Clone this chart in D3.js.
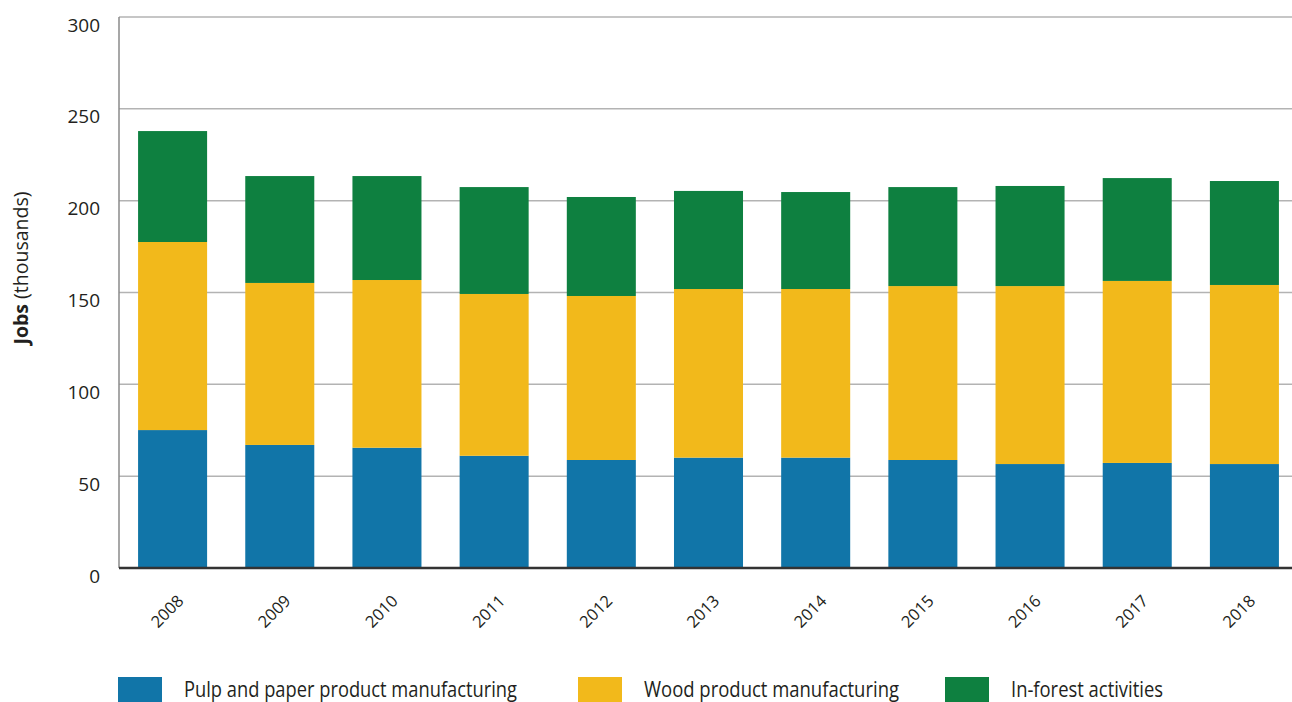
<!DOCTYPE html>
<html>
<head>
<meta charset="utf-8">
<script src="https://cdn.jsdelivr.net/npm/d3@7"></script>
<style>
  html, body { margin: 0; padding: 0; background: #fff; }
  svg { display: block; font-family: "Open Sans", "Noto Sans", sans-serif; }
</style>
</head>
<body>
<svg id="chart" width="1292" height="702"></svg>
<script>
const years = ["2008","2009","2010","2011","2012","2013","2014","2015","2016","2017","2018"];
const pulpPaper = [75.1, 67.0, 65.5, 61.1, 58.8, 60.1, 60.1, 58.8, 56.6, 57.2, 56.6];
const woodProduct = [102.4, 88.2, 91.3, 88.1, 89.3, 91.8, 91.8, 94.7, 96.9, 99.1, 97.5];
const inForest = [60.4, 58.2, 56.6, 58.2, 53.9, 53.4, 52.8, 53.9, 54.5, 56.0, 56.6];
const seriesNames = ["Pulp and paper product manufacturing", "Wood product manufacturing", "In-forest activities"];
const yTicks = [0, 50, 100, 150, 200, 250, 300];
const yTitleBold = "Jobs";
const yTitleRest = " (thousands)";

const colors = ["#1175a8", "#f2b91b", "#0e8040"];
const textColor = "#231f20";

const rows = years.map((y, i) => ({ year: y, s0: pulpPaper[i], s1: woodProduct[i], s2: inForest[i] }));
const stack = d3.stack().keys(["s0", "s1", "s2"]);
const stacked = stack(rows);

const svg = d3.select("#chart");

const x = d3.scaleBand().domain(years).range([119, 1298]).paddingInner(0.356).paddingOuter(0.178);
const y = d3.scaleLinear().domain([0, 300]).range([568, 17]);

// gridlines
svg.append("g").selectAll("line").data(yTicks.filter(t => t > 0)).join("line")
  .attr("x1", 119).attr("x2", 1292)
  .attr("y1", d => y(d)).attr("y2", d => y(d))
  .attr("stroke", "#b3b3b3").attr("stroke-width", 1.5);

// y axis line
svg.append("line").attr("x1", 119).attr("x2", 119).attr("y1", y(300)).attr("y2", y(0))
  .attr("stroke", "#8a8a8a").attr("stroke-width", 1.5);

// bars
svg.append("g").selectAll("g").data(stacked).join("g")
  .attr("fill", (d, i) => colors[i])
  .selectAll("rect").data(d => d).join("rect")
  .attr("x", d => x(d.data.year))
  .attr("width", x.bandwidth())
  .attr("y", d => y(d[1]))
  .attr("height", d => y(d[0]) - y(d[1]));

// baseline
svg.append("line").attr("x1", 119).attr("x2", 1292).attr("y1", y(0)).attr("y2", y(0))
  .attr("stroke", "#333").attr("stroke-width", 2.5);

// y tick labels
svg.append("g").selectAll("text").data(yTicks).join("text")
  .attr("x", 100).attr("y", d => y(d) + 8)
  .attr("dy", "0.35em")
  .attr("text-anchor", "end")
  .attr("font-size", 19)
  .attr("fill", textColor)
  .text(d => d);

// x tick labels
svg.append("g").selectAll("text").data(years).join("text")
  .attr("text-anchor", "end")
  .attr("font-size", 16.5)
  .attr("fill", textColor)
  .attr("transform", d => `translate(${x(d) + x.bandwidth() / 2 + 12},602) rotate(-45)`)
  .text(d => d);

// y title
const yt = svg.append("text")
  .attr("transform", "translate(28,268) rotate(-90)")
  .attr("text-anchor", "middle")
  .attr("font-size", 19.5)
  .attr("fill", textColor);
yt.append("tspan").attr("font-weight", "bold").text(yTitleBold);
yt.append("tspan").text(yTitleRest);

// legend
const legendX = [118, 578, 945];
const legendW = [333, 255, 152];
const lg = svg.append("g").selectAll("g").data(seriesNames).join("g");
lg.append("rect")
  .attr("x", (d, i) => legendX[i]).attr("y", 677)
  .attr("width", 44).attr("height", 25)
  .attr("fill", (d, i) => colors[i]);
lg.append("text")
  .attr("x", (d, i) => legendX[i] + 66).attr("y", 697)
  .attr("font-size", 21)
  .attr("fill", textColor)
  .attr("textLength", (d, i) => legendW[i])
  .attr("lengthAdjust", "spacingAndGlyphs")
  .text(d => d);
</script>
</body>
</html>
